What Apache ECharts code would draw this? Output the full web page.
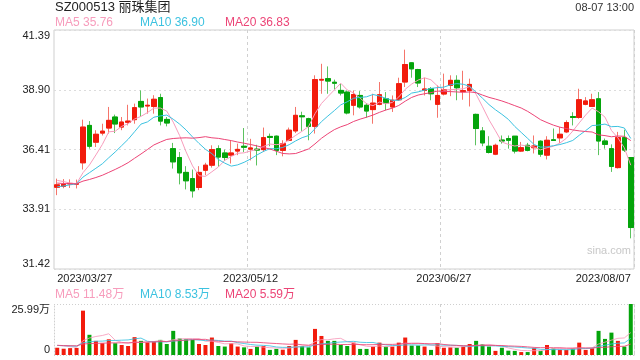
<!DOCTYPE html>
<html><head><meta charset="utf-8">
<script src="https://cdn.jsdelivr.net/npm/echarts@6/dist/echarts.min.js"></script>
<style>html,body{margin:0;padding:0;background:#fff}#c{width:640px;height:360px}</style>
</head><body><div id="c"></div>
<script>
const dates = [
'2023/03/27','2023/03/28','2023/03/29','2023/03/30','2023/03/31',
'2023/04/03','2023/04/04','2023/04/06','2023/04/07',
'2023/04/10','2023/04/11','2023/04/12','2023/04/13','2023/04/14',
'2023/04/17','2023/04/18','2023/04/19','2023/04/20','2023/04/21',
'2023/04/24','2023/04/25','2023/04/26','2023/04/27','2023/04/28',
'2023/05/04','2023/05/05','2023/05/08','2023/05/09','2023/05/10','2023/05/11','2023/05/12',
'2023/05/15','2023/05/16','2023/05/17','2023/05/18','2023/05/19',
'2023/05/22','2023/05/23','2023/05/24','2023/05/25','2023/05/26',
'2023/05/29','2023/05/30','2023/05/31','2023/06/01','2023/06/02',
'2023/06/05','2023/06/06','2023/06/07','2023/06/08','2023/06/09',
'2023/06/12','2023/06/13','2023/06/14','2023/06/15','2023/06/16',
'2023/06/19','2023/06/20','2023/06/21',
'2023/06/26','2023/06/27','2023/06/28','2023/06/29','2023/06/30',
'2023/07/03','2023/07/04','2023/07/05','2023/07/06','2023/07/07',
'2023/07/10','2023/07/11','2023/07/12','2023/07/13','2023/07/14',
'2023/07/17','2023/07/18','2023/07/19','2023/07/20','2023/07/21',
'2023/07/24','2023/07/25','2023/07/26','2023/07/27','2023/07/28',
'2023/07/31','2023/08/01','2023/08/02','2023/08/03','2023/08/04','2023/08/07'];

const opens = [34.83,34.87,34.97,34.96,35.85,37.41,36.71,37.09,37.30,37.76,
37.34,37.54,37.65,38.41,38.22,38.20,38.57,37.66,36.44,36.07,
35.45,35.19,34.82,35.54,35.75,36.44,36.26,36.17,36.34,36.54,
36.42,36.42,36.40,36.95,36.96,36.37,36.79,37.18,37.81,37.69,
37.37,39.30,39.36,39.21,38.87,38.80,38.25,38.66,38.25,38.07,
38.29,38.52,38.18,38.48,39.22,40.02,39.74,38.87,38.94,38.29,
38.72,39.08,39.29,38.82,38.87,37.87,37.18,36.54,36.21,36.80,
36.86,36.96,36.34,36.58,36.48,36.75,36.17,36.81,36.89,37.14,
37.78,37.74,38.29,38.20,38.52,36.76,36.44,35.65,36.90,36.07];
const closes = [34.93,34.95,34.99,34.98,37.34,36.54,37.04,37.17,37.62,37.47,
37.55,37.59,38.15,38.18,38.25,38.50,37.59,37.51,35.89,35.43,
35.10,34.68,35.45,35.75,36.40,36.09,36.07,36.26,36.41,36.50,
36.47,36.38,36.90,36.91,36.37,36.65,37.21,37.83,37.77,37.37,
39.32,39.33,39.26,39.17,38.76,37.93,38.70,38.18,38.01,38.34,
38.69,38.34,38.46,39.15,39.95,39.77,39.18,38.93,38.73,38.66,
38.90,39.29,38.98,38.86,39.12,37.28,36.68,36.28,36.58,36.76,
36.79,36.34,36.48,36.37,36.55,36.21,36.79,36.78,37.04,37.53,
37.74,38.48,38.43,38.48,36.76,36.62,35.70,36.90,36.38,33.15];
const lows = [34.50,34.79,34.80,34.78,35.57,36.44,36.51,36.99,37.07,37.09,
37.21,37.41,37.48,37.76,37.90,37.90,37.41,37.37,35.61,34.95,
34.74,34.40,34.71,35.33,35.65,35.68,35.93,35.82,36.17,36.30,
35.95,35.74,36.30,36.54,36.17,36.12,36.75,37.09,37.18,36.79,
37.07,38.73,38.73,38.90,38.66,37.87,37.83,38.11,37.73,37.48,
38.25,38.04,37.97,38.43,39.01,39.40,39.01,38.66,38.46,37.73,
38.66,38.63,38.46,38.48,38.20,36.58,36.54,36.24,36.17,36.65,
36.44,36.24,36.30,36.33,36.24,36.10,35.99,36.76,36.68,37.09,
37.41,37.69,38.25,38.18,36.17,36.44,35.47,35.61,36.30,32.70];
const highs = [35.19,35.17,35.16,35.15,37.65,37.59,37.21,37.48,38.18,37.86,
37.76,38.27,38.32,38.87,38.53,38.67,38.73,37.76,36.68,36.30,
35.71,35.57,35.71,35.85,36.58,36.58,36.40,36.79,36.65,37.30,
36.85,36.60,37.32,37.07,36.99,36.79,37.32,38.18,37.98,37.73,
39.50,39.98,39.87,39.32,39.15,38.87,38.87,38.84,38.34,38.73,
39.22,38.80,38.66,39.40,40.57,40.05,39.77,39.40,39.01,39.08,
39.57,39.50,39.50,39.69,39.36,37.90,37.34,36.96,36.65,36.99,
36.99,36.96,36.72,36.68,36.99,36.79,36.96,37.28,37.34,37.62,
37.96,38.94,38.59,38.73,38.80,36.86,36.62,37.14,37.23,36.07];
// closes of the 19 sessions before the window (implied by the MA lines at the left edge)
const priorCloses = [35.3,35.2,35.0,35.1,35.2,35.4,35.3,35.2,35.0,34.9,
34.6,34.5,34.6,34.5,34.7,35.2,35.3,35.1,35.05];

// volume in 万 (10k shares)
const volumes = [3.7,3.2,3.5,3.6,22.6,10.3,7.2,6.0,8.0,6.0,
5.1,4.6,9.1,7.2,6.5,6.8,7.7,5.6,12.3,8.4,
8.0,7.7,5.6,5.1,8.9,4.6,4.3,6.0,4.3,3.9,
3.1,4.3,4.6,2.6,3.1,2.7,4.6,7.7,4.6,3.9,
13.3,9.7,7.2,7.2,5.1,4.6,6.3,3.1,3.1,4.3,
6.3,4.3,4.3,6.3,8.9,4.8,4.8,4.3,2.6,6.0,
3.7,3.9,3.7,4.3,5.6,7.2,5.6,4.3,2.1,3.7,
2.2,2.1,1.5,1.5,3.6,2.1,5.1,3.3,2.6,2.6,
3.3,6.3,2.6,3.4,12.3,8.2,11.4,7.2,4.3,25.99];
const priorVolumes = [5.2,4.8,4.5,5.0,5.5,4.9,4.6,5.1,5.3,4.7,
4.4,4.9,5.2,4.8,4.6,5.0,5.4,5.1,5.6];

const priceTickLabels = ['31.42','33.91','36.41','38.90','41.39'];
const volTickLabels = ['0','25.99万'];
const xLabelIdx = [0,30,60,89];
const titleText = 'SZ000513 丽珠集团';
const timeText = '08-07 13:00';
const priceLegend = ['MA5 35.76','MA10 36.90','MA20 36.83'];
const volLegend = ['MA5 11.48万','MA10 8.53万','MA20 5.59万'];

const C_UP = '#f21b0c', C_DN = '#04a40b';
const W_UP = '#f5756b', W_DN = '#5cc25f';
const C_MA5 = '#f79cbc', C_MA10 = '#3cc2e0', C_MA20 = '#ec4476';
const FONT = "'Liberation Sans', Arial, 'Noto Sans CJK SC', sans-serif";

function movingAvg(arr, prior, n) {
  const all = prior.concat(arr);
  return arr.map((_, i) => {
    let s = 0;
    for (let k = 0; k < n; k++) s += all[prior.length + i - k];
    return +(s / n).toFixed(3);
  });
}

const candleFull = dates.map((_, i) => [opens[i], closes[i], lows[i], highs[i]]);
const candleBody = dates.map((_, i) => [opens[i], closes[i], Math.min(opens[i], closes[i]), Math.max(opens[i], closes[i])]);

const chart = echarts.init(document.getElementById('c'), null, {renderer: 'canvas'});

function maLine(name, data, color, xi, yi, opacity) {
  return {name, type: 'line', data, xAxisIndex: xi, yAxisIndex: yi, symbol: 'none',
    lineStyle: {width: 1, color, opacity: opacity || 1}, itemStyle: {color}, silent: true, z: 5};
}

function legendTitles(items, top) {
  const lefts = [55, 140, 225];
  const cols = [C_MA5, C_MA10, C_MA20];
  return items.map((t, i) => ({text: t, left: lefts[i], top: top, padding: 0,
    textStyle: {fontSize: 12, fontWeight: 'normal', color: cols[i], fontFamily: FONT}}));
}

const option = {
  animation: false,
  textStyle: {fontFamily: FONT},
  title: [
    {text: titleText, left: 55, top: 1, padding: 0, textStyle: {fontSize: 13, fontWeight: 'normal', color: '#222', fontFamily: FONT}},
    {text: timeText, right: 6, top: 2, padding: 0, textStyle: {fontSize: 11, fontWeight: 'normal', color: '#333', fontFamily: FONT}}
  ].concat(legendTitles(priceLegend, 17)).concat(legendTitles(volLegend, 289)),
  graphic: [{type: 'text', right: 9, top: 245, style: {text: 'sina.com', fill: '#c8c8c8', font: '11px ' + FONT}}],
  grid: [
    {left: 54, right: 6, top: 30, height: 239, show: true, borderColor: '#cfcfcf', borderWidth: 1},
    {left: 54, right: 6, top: 304, height: 51}
  ],
  xAxis: [
    {type: 'category', gridIndex: 0, data: dates, boundaryGap: true,
      axisLine: {show: false}, axisTick: {show: false},
      axisLabel: {color: '#222', fontSize: 11, margin: 4,
        interval: (i) => xLabelIdx.indexOf(i) >= 0,
        alignMinLabel: 'left', alignMaxLabel: 'right'},
      splitLine: {show: true, interval: (i) => i === 30 || i === 60,
        lineStyle: {color: '#d0d0d0', type: [3, 3], width: 1}}},
    {type: 'category', gridIndex: 1, data: dates, boundaryGap: true,
      axisLine: {show: false}, axisTick: {show: false}, axisLabel: {show: false},
      splitLine: {show: true, interval: (i) => i === 30 || i === 60,
        lineStyle: {color: '#d0d0d0', type: [3, 3], width: 1}}}
  ],
  yAxis: [
    {type: 'value', gridIndex: 0, min: 31.42, max: 41.39, interval: 2.4925, scale: true,
      axisLine: {show: false}, axisTick: {show: false},
      axisLabel: {color: '#222', fontSize: 11, margin: 4,
        formatter: (v, i) => priceTickLabels[i],
        verticalAlignMinLabel: 'bottom', verticalAlignMaxLabel: 'top'},
      splitLine: {show: true, lineStyle: {color: '#dcdcdc', type: [2, 3], width: 1}}},
    {type: 'value', gridIndex: 1, min: 0, max: 25.99, interval: 25.99,
      axisLine: {show: true, lineStyle: {color: '#cfcfcf', type: [1, 2]}}, axisTick: {show: false},
      axisLabel: {color: '#222', fontSize: 11, margin: 4,
        formatter: (v, i) => volTickLabels[i],
        verticalAlignMinLabel: 'bottom', verticalAlignMaxLabel: 'top'},
      splitLine: {show: true, lineStyle: {color: '#cfcfcf', type: [1, 2], width: 1}}},
    {type: 'value', gridIndex: 1, position: 'right', min: 0, max: 25.99, interval: 25.99,
      axisLine: {show: true, lineStyle: {color: '#cfcfcf', type: [1, 2]}}, axisTick: {show: false},
      axisLabel: {show: false}, splitLine: {show: false}}
  ],
  series: [
    {name: 'wick', type: 'candlestick', xAxisIndex: 0, yAxisIndex: 0, data: candleFull, barWidth: 5, silent: true,
      itemStyle: {color: W_UP, color0: W_DN, borderColor: W_UP, borderColor0: W_DN, borderWidth: 1}},
    {name: 'body', type: 'candlestick', xAxisIndex: 0, yAxisIndex: 0, data: candleBody, barWidth: 5, silent: true,
      itemStyle: {color: C_UP, color0: C_DN, borderColor: C_UP, borderColor0: C_DN, borderWidth: 1}},
    maLine('MA5', movingAvg(closes, priorCloses, 5), C_MA5, 0, 0),
    maLine('MA10', movingAvg(closes, priorCloses, 10), C_MA10, 0, 0),
    maLine('MA20', movingAvg(closes, priorCloses, 20), C_MA20, 0, 0),
    {name: 'VOL', type: 'bar', xAxisIndex: 1, yAxisIndex: 1, data: volumes, barWidth: 4, silent: true,
      itemStyle: {color: (p) => closes[p.dataIndex] >= opens[p.dataIndex] ? C_UP : C_DN}},
    maLine('VMA5', movingAvg(volumes, priorVolumes, 5), C_MA5, 1, 1, 0.85),
    maLine('VMA10', movingAvg(volumes, priorVolumes, 10), C_MA10, 1, 1, 0.85),
    maLine('VMA20', movingAvg(volumes, priorVolumes, 20), C_MA20, 1, 1, 0.85)
  ]
};
chart.setOption(option);
</script>
</body></html>
